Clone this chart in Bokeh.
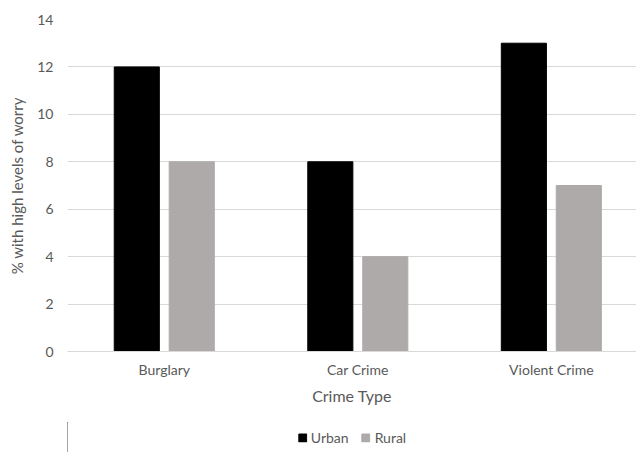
from bokeh.plotting import figure
from bokeh.layouts import column
from bokeh.models import ColumnDataSource, FixedTicker, Legend, LegendItem, Range1d
from bokeh.embed import file_html
from bokeh.resources import INLINE

categories = ["Burglary", "Car Crime", "Violent Crime"]
urban = [12, 8, 13]
rural = [8, 4, 7]
y_ticks = [0, 2, 4, 6, 8, 10, 12, 14]

xc = [i + 0.5 for i in range(len(categories))]
src = ColumnDataSource(dict(
    xu=[x - 0.142 for x in xc], xr=[x + 0.142 for x in xc],
    urban=urban, rural=rural))

FONT = "Lato"
TXT = "#595959"
C_URBAN = "#000000"
C_RURAL = "#AEAAAA"

p = figure(width=636, height=412, output_backend="svg", toolbar_location=None,
           x_range=Range1d(0, 2.94), y_range=Range1d(0, 14),
           min_border_left=67, min_border_top=19, min_border_right=0,
           min_border_bottom=61)
p.outline_line_color = None

p.vbar(x="xu", top="urban", width=0.233, source=src, fill_color=C_URBAN, line_color=C_URBAN)
p.vbar(x="xr", top="rural", width=0.233, source=src, fill_color=C_RURAL, line_color=C_RURAL)

p.xaxis.ticker = FixedTicker(ticks=xc)
p.xaxis.major_label_overrides = {x: c for x, c in zip(xc, categories)}
p.xaxis.axis_label = "Crime Type"
p.xaxis.axis_line_color = "#D9D9D9"
p.xaxis.major_tick_line_color = None
p.xaxis.minor_tick_line_color = None
p.xaxis.major_tick_in = 0
p.xaxis.major_tick_out = 0
p.xaxis.major_label_standoff = 9
p.xaxis.axis_label_standoff = 5

p.yaxis.ticker = FixedTicker(ticks=y_ticks)
p.yaxis.axis_label = "% with high levels of worry"
p.yaxis.axis_line_color = None
p.yaxis.major_tick_line_color = None
p.yaxis.minor_tick_line_color = None
p.yaxis.major_label_standoff = 8
p.yaxis.axis_label_standoff = 8

for ax in (p.xaxis, p.yaxis):
    ax.major_label_text_font = FONT
    ax.major_label_text_font_size = "14px"
    ax.major_label_text_color = TXT
    ax.axis_label_text_font = FONT
    ax.axis_label_text_font_size = "16px"
    ax.axis_label_text_font_style = "normal"
    ax.axis_label_text_color = TXT
p.yaxis.axis_label_text_font_size = "15px"

p.xgrid.grid_line_color = None
p.ygrid.grid_line_color = "#D9D9D9"
p.ygrid.ticker = FixedTicker(ticks=y_ticks)

# Legend strip below the chart (same data, bars kept out of view)
lg = figure(width=636, height=40, output_backend="svg", toolbar_location=None,
            x_range=Range1d(10, 11), y_range=Range1d(0, 1),
            min_border_left=26, min_border_top=10, min_border_right=0,
            min_border_bottom=0)
lg.outline_line_color = None
lg.axis.visible = False
lg.grid.visible = False
lr1 = lg.vbar(x="xu", top="urban", width=0.233, source=src, fill_color=C_URBAN, line_color=C_URBAN)
lr2 = lg.vbar(x="xr", top="rural", width=0.233, source=src, fill_color=C_RURAL, line_color=C_RURAL)

legend = Legend(items=[LegendItem(label="Urban", renderers=[lr1]),
                       LegendItem(label="Rural", renderers=[lr2])],
                orientation="horizontal", location="center",
                label_text_font=FONT, label_text_font_size="14px",
                label_text_color=TXT, glyph_width=10, glyph_height=10,
                label_height=14, label_standoff=4, spacing=12,
                border_line_color=None, background_fill_alpha=0,
                margin=0, padding=0)
lg.add_layout(legend)

layout = column(p, lg, spacing=0)
open("out.html", "w").write(file_html(layout, INLINE))
